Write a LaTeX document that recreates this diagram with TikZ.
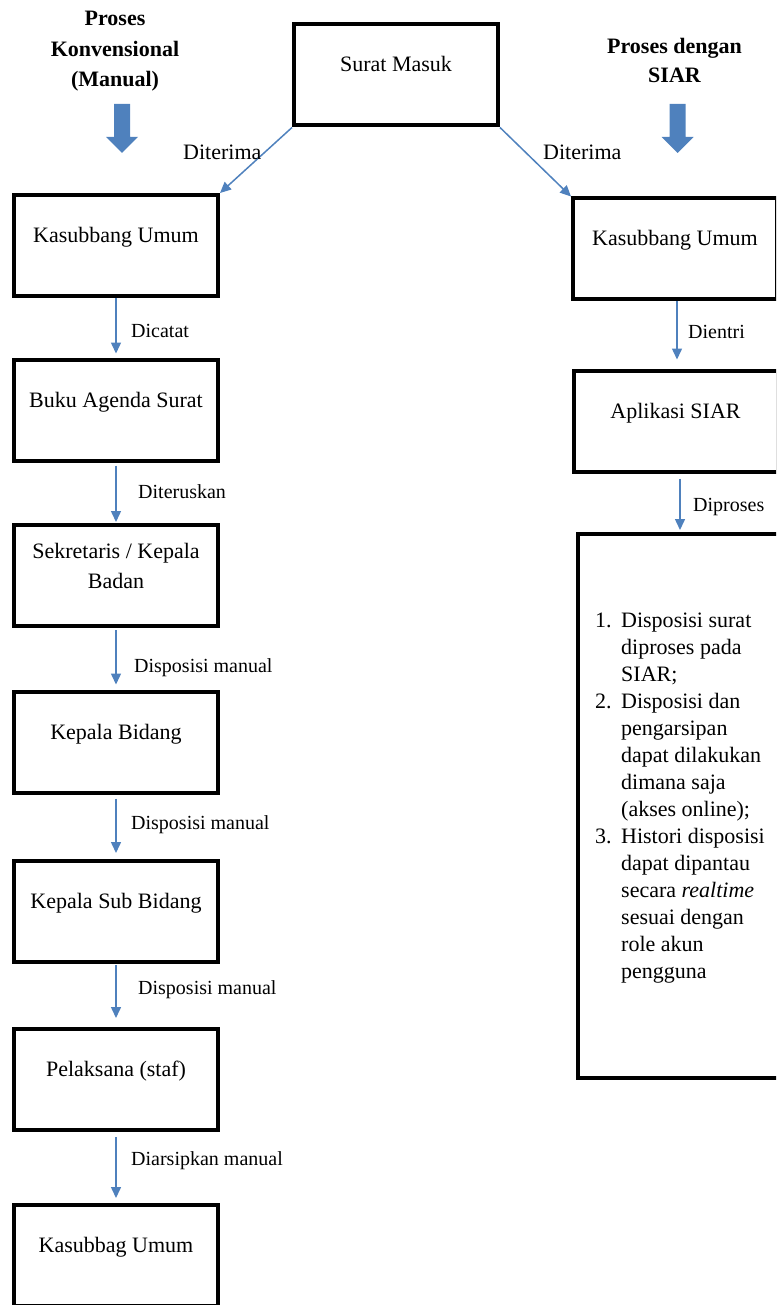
\documentclass[tikz,border=0pt]{standalone}
\usepackage{fontspec}
\setmainfont{Liberation Serif}
\usetikzlibrary{arrows.meta}
\definecolor{wordblue}{HTML}{4F81BD}
\begin{document}
\begin{tikzpicture}[x=1pt,y=-1pt,
  box/.style={draw=black,line width=4pt,minimum width=204pt,minimum height=101pt,inner sep=0pt},
  txt/.style={font=\fontsize{22}{30}\selectfont,anchor=base,inner sep=0pt},
  lbl/.style={font=\fontsize{20}{24}\selectfont,anchor=base west,inner sep=0pt},
  biglbl/.style={font=\fontsize{22}{26}\selectfont,anchor=base west,inner sep=0pt},
  conn/.style={draw=wordblue,line width=1.5pt,-{Triangle[length=11pt,width=10pt]}},
  blockarrow/.style={fill=wordblue,draw=none}]
\useasboundingbox (0,0) rectangle (776,1305);
\clip (0,0) rectangle (776,1305);

% titles
\node[txt,font=\fontsize{22}{30.5}\selectfont\bfseries] (tl) at (115,26)
  {\begin{tabular}[t]{@{}c@{}}Proses\\Konvensional\\(Manual)\end{tabular}};
\node[txt,font=\fontsize{22}{29}\selectfont\bfseries] (tr) at (674.5,54)
  {\begin{tabular}[t]{@{}c@{}}Proses dengan\\SIAR\end{tabular}};

% block arrows
\fill[blockarrow] (114,104) -- (130,104) -- (130,137) -- (138,137) -- (122,153) -- (106,137) -- (114,137) -- cycle;
\fill[blockarrow] (669.5,104) -- (685.5,104) -- (685.5,137) -- (693.5,137) -- (677.5,153) -- (661.5,137) -- (669.5,137) -- cycle;

% top box
\node[box] (sm) at (396,75) {};
\node[txt] (smt) at ([yshift=3pt]sm.center) {Surat Masuk};

% left column
\node[box] (l1) at (116,245.5) {};
\node[box] (l2) at (116,410) {};
\node[box] (l3) at (116,575.5) {};
\node[box] (l4) at (116,742) {};
\node[box] (l5) at (116,911.5) {};
\node[box] (l6) at (116,1079.5) {};
\node[box] (l7) at (116,1255.5) {};
\node[txt] (l1t) at ([yshift=3pt]l1.center) {Kasubbang Umum};
\node[txt] (l2t) at ([yshift=3pt]l2.center) {Buku Agenda Surat};
\node[txt] (l3t) at ([yshift=17.5pt]l3.center) {\begin{tabular}[t]{@{}c@{}}Sekretaris / Kepala\\Badan\end{tabular}};
\node[txt] (l4t) at ([yshift=3pt]l4.center) {Kepala Bidang};
\node[txt] (l5t) at ([yshift=3pt]l5.center) {Kepala Sub Bidang};
\node[txt] (l6t) at ([yshift=3pt]l6.center) {Pelaksana (staf)};
\node[txt] (l7t) at ([yshift=3pt]l7.center) {Kasubbag Umum};

% right column
\node[box] (r1) at (675,249) {};
\node[box] (r2) at (675.5,421) {};
\node[box,minimum height=544pt] (r3) at (680,806) {};
\node[txt] (r1t) at ([yshift=3pt]r1.center) {Kasubbang Umum};
\node[txt] (r2t) at ([yshift=3pt]r2.center) {Aplikasi SIAR};
\node[anchor=base west,inner sep=0pt,font=\fontsize{22}{27}\selectfont] (r3t) at (595,627)
  {\begin{tabular}[t]{@{}l@{\hspace{9.5pt}}l@{}}
   1. & Disposisi surat\\
      & diproses pada\\
      & SIAR;\\
   2. & Disposisi dan\\
      & pengarsipan\\
      & dapat dilakukan\\
      & dimana saja\\
      & (akses online);\\
   3. & Histori disposisi\\
      & dapat dipantau\\
      & secara \textit{realtime}\\
      & sesuai dengan\\
      & role akun\\
      & pengguna
   \end{tabular}};

% connectors
\draw[conn] (sm.south west) -- (l1.north east);
\draw[conn] (sm.south east) -- (r1.north west);
\draw[conn,shorten >=4pt] (l1.south) -- (l2.north);
\draw[conn,shorten <=3pt,shorten >=1pt] (l2.south) -- (l3.north);
\draw[conn,shorten <=2pt,shorten >=5pt] (l3.south) -- (l4.north);
\draw[conn,shorten <=4pt,shorten >=6pt] (l4.south) -- (l5.north);
\draw[conn,shorten <=1pt,shorten >=9pt] (l5.south) -- (l6.north);
\draw[conn,shorten <=5pt,shorten >=5pt] (l6.south) -- (l7.north);
\draw[conn,shorten >=9pt] ([xshift=2pt]r1.south) -- ([xshift=2pt]r1.south |- r2.north);
\draw[conn,shorten <=5pt,shorten >=2pt] (r3.north |- r2.south) -- (r3.north);

% connector labels
\node[biglbl] (d1) at (183,160) {Diterima};
\node[biglbl] (d2) at (543,160) {Diterima};
\node[lbl] (c1) at (131,337) {Dicatat};
\node[lbl] (c2) at (138,498) {Diteruskan};
\node[lbl] (c3) at (134,672) {Disposisi manual};
\node[lbl] (c4) at (131,829) {Disposisi manual};
\node[lbl] (c5) at (138,994) {Disposisi manual};
\node[lbl] (c6) at (131,1165) {Diarsipkan manual};
\node[lbl] (c7) at (688,338) {Dientri};
\node[lbl] (c8) at (693,511) {Diproses};
\end{tikzpicture}
\end{document}
